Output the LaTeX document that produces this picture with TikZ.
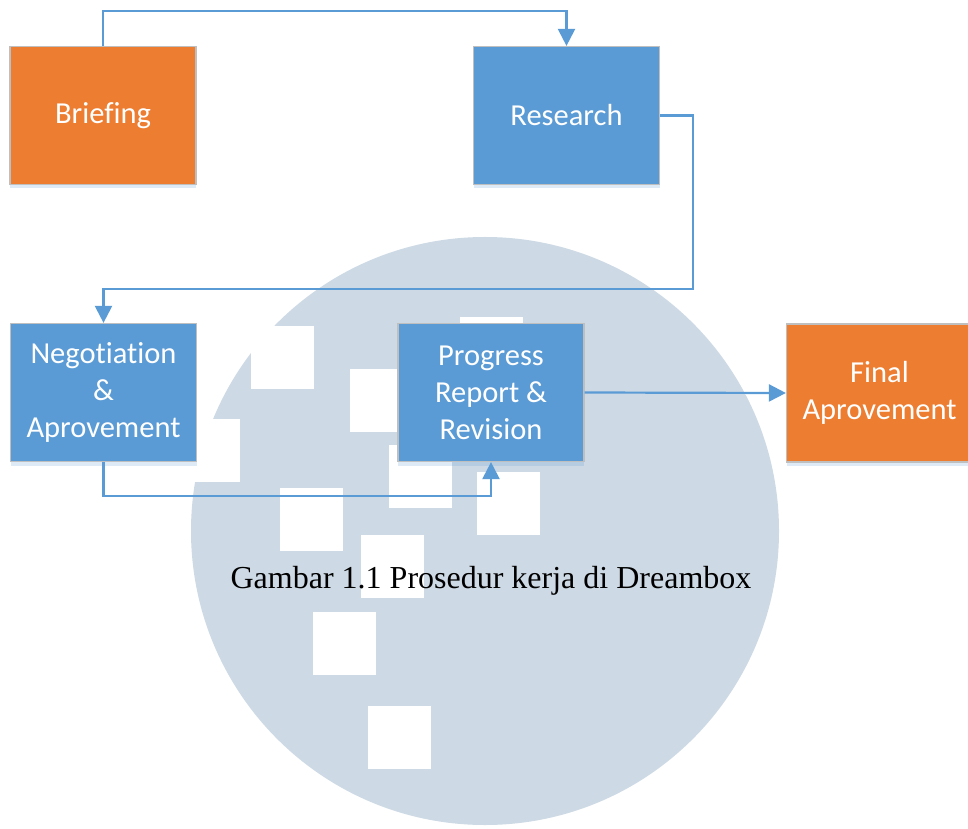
\documentclass[tikz,border=0pt]{standalone}
\usepackage{fontspec}
\setmainfont{Liberation Serif}
\newfontfamily\boxfont[Ligatures=NoCommon]{Carlito}
\usetikzlibrary{positioning, arrows.meta, shadows}
\definecolor{boxorange}{HTML}{ED7D31}
\definecolor{boxblue}{HTML}{5B9BD5}
\definecolor{boxedge}{HTML}{BFBFBF}
\definecolor{disc}{HTML}{CDD9E4}

\begin{document}
\begin{tikzpicture}[x=1pt, y=1pt, >={Triangle[length=17pt,width=17pt]},
    box/.style={draw=boxedge, line width=1.2pt, text=white, align=center,
        minimum width=186pt, minimum height=138pt, inner sep=0pt,
        font=\boxfont\fontsize{30.5}{37}\selectfont,
        drop shadow={shadow xshift=0pt, shadow yshift=-4pt, opacity=.2, fill=boxblue}},
    flow/.style={->, color=boxblue, line width=2.2pt}]
    \useasboundingbox (0,0) rectangle (968,828);

    % background disc with white squares
    \fill[disc] (485,297) circle[radius=294];
    \foreach \a/\b in {460/448, 251/439, 350/396, 177/346, 389/320,
                       477/293, 280/277, 361/230, 313/153, 368/59}
    {
        \fill[white] (\a,\b) rectangle ++(63,63);
    }
    \node (cap) at (491,247) [font=\fontsize{32}{38}\selectfont]
        {Gambar 1.1 Prosedur kerja di Dreambox};

    % steps
    \node (brief) at (103,712.5) [box, fill=boxorange] {Briefing};
    \node (research) at (566.5,712.5) [box, fill=boxblue] {Research};
    \node (nego) at (103.5,435.5) [box, fill=boxblue] {Negotiation\\\&\\Aprovement};
    \node (progress) at (491,435.5) [box, fill=boxblue] {Progress\\Report \&\\Revision};
    \node (final) at (879.5,435) [box, fill=boxorange] {Final\\Aprovement};

    % connectors
    \coordinate (turn) at (693,539);
    \draw[flow] (brief.north) -- ++(0,35) -| (research.north);
    \draw[flow] (research.east) -| (turn) -| (nego.north);
    \draw[flow] (nego.south) -- ++(0,-34) -| (progress.south);
    \draw[flow] (progress.east) -- (final.west);

\end{tikzpicture}
\end{document}
